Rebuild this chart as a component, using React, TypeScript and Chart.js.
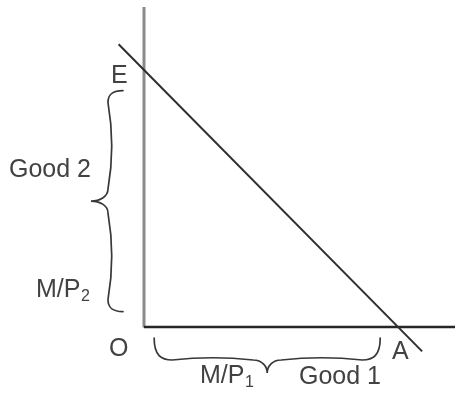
import React, { useEffect, useRef } from "react";
import { Chart, registerables } from "chart.js";

Chart.register(...registerables);

// Budget-line data (Good 1 on x, Good 2 on y)
const interceptA = 10; // M/P1 — quantity of Good 1 at A
const interceptE = 10; // M/P2 — quantity of Good 2 at E
const budgetX = [-1.0, 10.95];
const budgetY = [11.0, -0.95];
const axisYTop = [12.45];
const axisXRight = [12.3];
const braceGood2 = [0.6, 9.2];
const braceGood1 = [0.4, 9.3];
const xRange = [-5.669, 12.244];
const yRange = [-2.568, 12.724];

const FONT = "'Liberation Sans', Arial, Helvetica, sans-serif";
const TEXT_COLOR = "#424242";

function drawBrace(
  ctx: CanvasRenderingContext2D,
  map: (u: number, v: number) => [number, number],
  L: number,
  b: number,
  t: number,
  c: number,
  k: number,
  bow: number
) {
  const m = L / 2;
  ctx.beginPath();
  const p0 = map(0, 0);
  ctx.moveTo(p0[0], p0[1]);
  const bez = (a: [number, number], bb: [number, number], cc: [number, number]) =>
    ctx.bezierCurveTo(a[0], a[1], bb[0], bb[1], cc[0], cc[1]);
  bez(map(0, b * 0.8), map(c * 0.4, b), map(c, b));
  // first half of body, slightly bowed
  const s1 = (m - k - c) / 3;
  bez(map(c + s1, b - bow), map(c + 2 * s1, b - bow), map(m - k, b));
  bez(map(m - k * 0.35, b), map(m, b + (t - b) * 0.5), map(m, t));
  bez(map(m, b + (t - b) * 0.5), map(m + k * 0.35, b), map(m + k, b));
  const s2 = (L - c - (m + k)) / 3;
  bez(map(m + k + s2, b - bow), map(m + k + 2 * s2, b - bow), map(L - c, b));
  bez(map(L - c * 0.4, b), map(L, b * 0.8), map(L, 0));
  ctx.stroke();
}

function drawLabel(ctx: CanvasRenderingContext2D, text: string, sub: string, x: number, y: number) {
  ctx.font = `25px ${FONT}`;
  ctx.fillText(text, x, y);
  if (sub) {
    const w = ctx.measureText(text).width;
    ctx.font = `16px ${FONT}`;
    ctx.fillText(sub, x + w + 0.5, y + 4);
  }
}

const overlayPlugin = {
  id: "overlay",
  afterDatasetsDraw(chart: any) {
    const ctx: CanvasRenderingContext2D = chart.ctx;
    const xs = chart.scales.x;
    const ys = chart.scales.y;
    const px = (v: number) => xs.getPixelForValue(v);
    const py = (v: number) => ys.getPixelForValue(v);
    const O = { x: px(0), y: py(0) };
    const E = { x: px(0), y: py(interceptE) };
    const A = { x: px(interceptA), y: py(0) };

    ctx.save();
    ctx.strokeStyle = "#383838";
    ctx.lineWidth = 1.7;
    ctx.lineCap = "round";
    // Brace along Good 2 axis (tip pointing left)
    const top2 = py(braceGood2[1]);
    const bot2 = py(braceGood2[0]);
    drawBrace(ctx, (u, v) => [O.x - 21 - v, top2 + u], bot2 - top2, 15, 32, 12, 12, 5);
    // Brace along Good 1 axis (tip pointing down)
    const l1 = px(braceGood1[0]);
    const r1 = px(braceGood1[1]);
    drawBrace(ctx, (u, v) => [l1 + u, O.y + 11 + v], r1 - l1, 22, 35, 18, 14, 3);

    ctx.fillStyle = TEXT_COLOR;
    ctx.textAlign = "left";
    ctx.textBaseline = "alphabetic";
    drawLabel(ctx, "E", "", E.x - 33, E.y + 13);
    drawLabel(ctx, "Good 2", "", O.x - 135, O.y - 150);
    drawLabel(ctx, "M/P", "2", O.x - 108, O.y - 30);
    drawLabel(ctx, "O", "", O.x - 35, O.y + 29);
    drawLabel(ctx, "M/P", "1", O.x + 56, O.y + 56);
    drawLabel(ctx, "Good 1", "", O.x + 155, O.y + 57);
    drawLabel(ctx, "A", "", A.x - 6, A.y + 32);
    ctx.restore();
  },
};

export default function App() {
  const canvasRef = useRef<HTMLCanvasElement | null>(null);

  useEffect(() => {
    const canvas = canvasRef.current;
    if (!canvas) return;
    const chart = new Chart(canvas, {
      type: "scatter",
      data: {
        datasets: [
          {
            label: "Budget line",
            data: budgetX.map((x, i) => ({ x, y: budgetY[i] })),
            showLine: true,
            borderColor: "#2e2e2e",
            borderWidth: 2,
            pointRadius: 0,
            clip: false,
          },
          {
            label: "Good 1 axis",
            data: [
              { x: 0, y: 0 },
              { x: axisXRight[0], y: 0 },
            ],
            showLine: true,
            borderColor: "#262626",
            borderWidth: 2.5,
            pointRadius: 0,
            clip: false,
          },
          {
            label: "Good 2 axis",
            data: [
              { x: 0, y: -0.02 },
              { x: 0, y: axisYTop[0] },
            ],
            showLine: true,
            borderColor: "#8a8a8a",
            borderWidth: 3,
            pointRadius: 0,
            clip: false,
          },
        ],
      },
      options: {
        animation: false,
        responsive: false,
        devicePixelRatio: 1,
        layout: { padding: 0 },
        plugins: {
          legend: { display: false },
          tooltip: { enabled: false },
        },
        scales: {
          x: { type: "linear", display: false, min: xRange[0], max: xRange[1] },
          y: { type: "linear", display: false, min: yRange[0], max: yRange[1] },
        },
      },
      plugins: [overlayPlugin],
    });
    return () => chart.destroy();
  }, []);

  return (
    <div style={{ position: "absolute", left: 0, top: 0, width: 455, height: 393, background: "#fff" }}>
      <canvas ref={canvasRef} width={455} height={393} style={{ width: 455, height: 393, display: "block" }} />
    </div>
  );
}
